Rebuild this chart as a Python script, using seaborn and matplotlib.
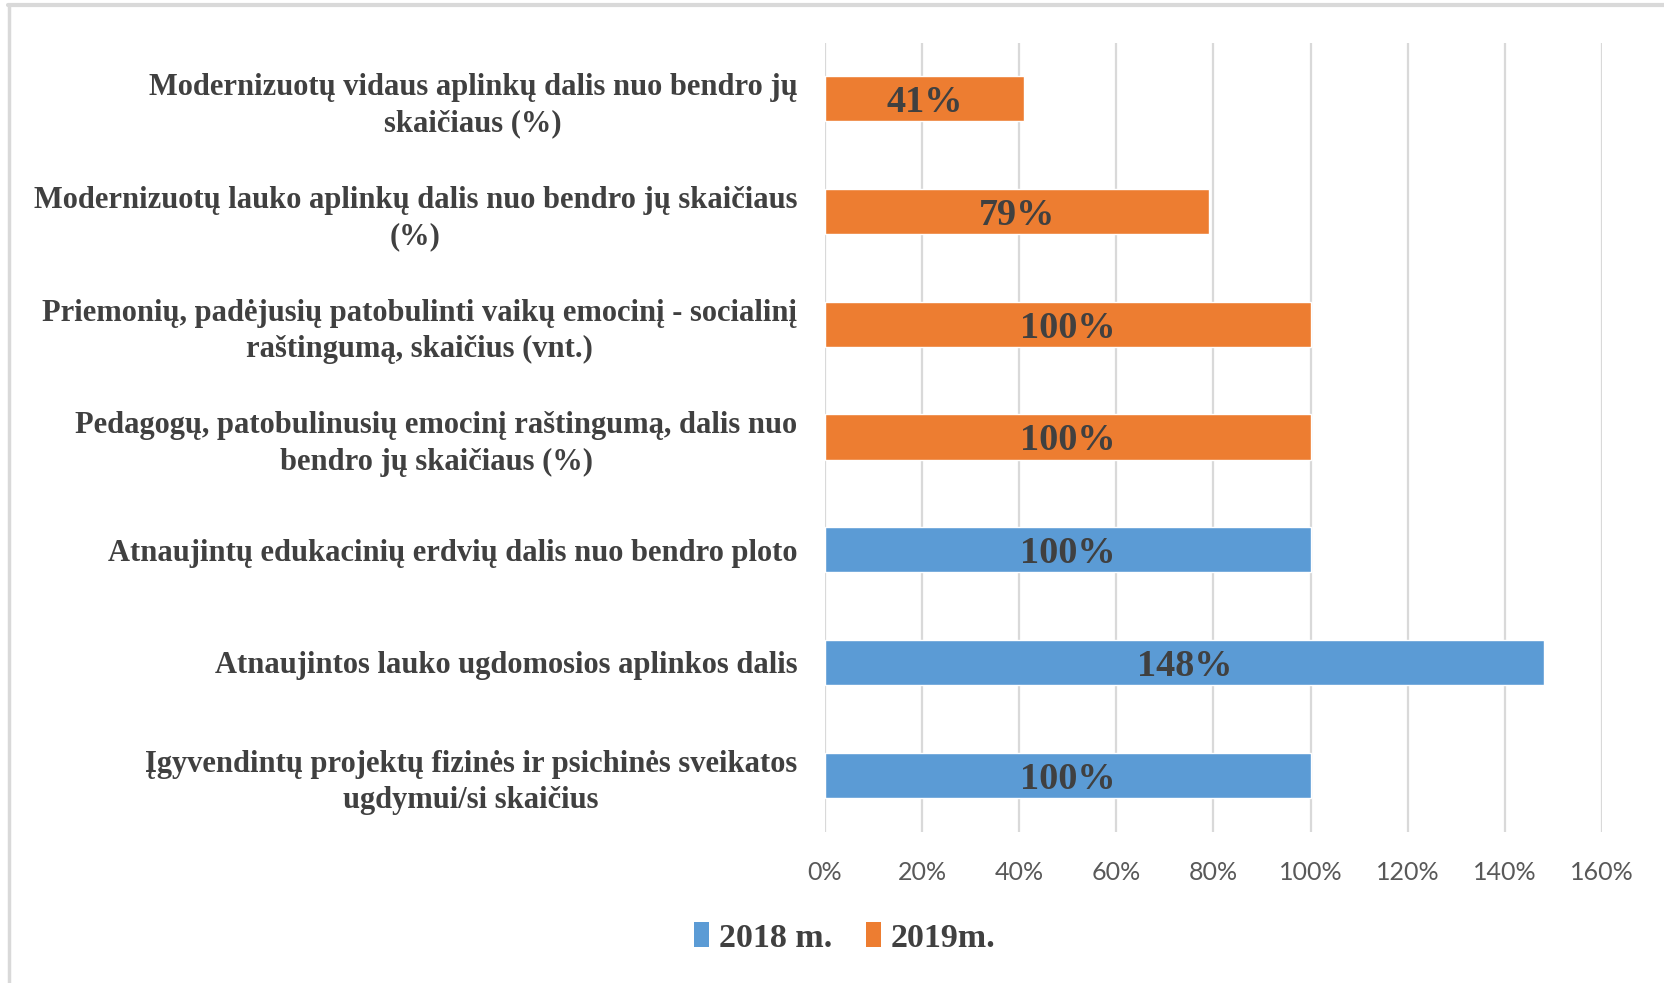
import matplotlib
matplotlib.use("Agg")
import matplotlib.pyplot as plt
import seaborn as sns
import pandas as pd
from matplotlib.patches import Patch
from matplotlib.lines import Line2D

categories = [
    "Modernizuotų vidaus aplinkų dalis nuo bendro jų\nskaičiaus (%)",
    "Modernizuotų lauko aplinkų dalis nuo bendro jų skaičiaus\n(%)",
    "Priemonių, padėjusių patobulinti vaikų emocinį - socialinį\nraštingumą, skaičius (vnt.)",
    "Pedagogų, patobulinusių emocinį raštingumą, dalis nuo\nbendro jų skaičiaus (%)",
    "Atnaujintų edukacinių erdvių dalis nuo bendro ploto",
    "Atnaujintos lauko ugdomosios aplinkos dalis",
    "Įgyvendintų projektų fizinės ir psichinės sveikatos\nugdymui/si skaičius",
]
years = ["2019m.", "2019m.", "2019m.", "2019m.", "2018 m.", "2018 m.", "2018 m."]
values = [41, 79, 100, 100, 100, 148, 100]
bar_labels = ["41%", "79%", "100%", "100%", "100%", "148%", "100%"]
x_ticks = [0, 20, 40, 60, 80, 100, 120, 140, 160]
x_tick_labels = ["0%", "20%", "40%", "60%", "80%", "100%", "120%", "140%", "160%"]
legend_labels = ["2018 m.", "2019m."]

BLUE = "#5B9BD5"
ORANGE = "#ED7D31"
palette = {"2018 m.": BLUE, "2019m.": ORANGE}

df = pd.DataFrame({"cat": categories, "year": years, "val": values})

sns.set_theme(style="white")
plt.rcParams["font.family"] = ["Liberation Serif", "DejaVu Serif"]

fig = plt.figure(figsize=(16.65, 9.83), dpi=100)
ax = fig.add_axes([825 / 1665, 1 - 831.5 / 983, (1602 - 825) / 1665, (831.5 - 42.5) / 983])

sns.barplot(data=df, y="cat", x="val", hue="year", palette=palette,
            hue_order=legend_labels, order=categories, dodge=False,
            width=0.4, orient="h", ax=ax, legend=False, saturation=1)

ax.set_xlim(0, 160)
ax.set_xticks(x_ticks)
ax.set_xticklabels(x_tick_labels, fontfamily="Lato", fontsize=18, color="#595959")
ax.set_xlabel("")
ax.set_ylabel("")
ax.grid(axis="x", color="#D9D9D9", linewidth=1.6)
ax.grid(axis="y", visible=False)
ax.set_axisbelow(True)
for s in ax.spines.values():
    s.set_visible(False)
ax.tick_params(axis="x", length=0, pad=21)
ax.tick_params(axis="y", length=0, pad=20)
for lbl in ax.get_yticklabels():
    lbl.set_fontsize(22)
    lbl.set_fontweight("bold")
    lbl.set_color("#404040")
    lbl.set_multialignment("center")
    lbl.set_linespacing(1.32)

for container in ax.containers:
    for bar in container:
        w = bar.get_width()
        if w != w or w == 0:
            continue
        idx = int(round(bar.get_y() + bar.get_height() / 2))
        ax.text(w / 2, bar.get_y() + bar.get_height() / 2, bar_labels[idx],
                ha="center", va="center_baseline", fontsize=27.5, fontweight="bold",
                color="#404040")

handles = [Patch(facecolor=palette[l], edgecolor="none") for l in legend_labels]
leg = fig.legend(handles, legend_labels, loc="center", bbox_to_anchor=(845 / 1665, 1 - 938 / 983),
                 ncol=2, frameon=False, handlelength=0.42, handleheight=0.75,
                 handletextpad=0.3, columnspacing=1.0,
                 prop={"family": "Liberation Serif", "weight": "bold", "size": 24.5})
for t in leg.get_texts():
    t.set_color("#404040")

# outer chart frame
fig.add_artist(Line2D([8 / 1665, 1664 / 1665], [1 - 5 / 983, 1 - 5 / 983],
                      transform=fig.transFigure, color="#D9D9D9", linewidth=3))
fig.add_artist(Line2D([9.5 / 1665, 9.5 / 1665], [0, 1 - 5 / 983],
                      transform=fig.transFigure, color="#D9D9D9", linewidth=2.5))

fig.savefig("out.png", dpi=100, facecolor="white")
